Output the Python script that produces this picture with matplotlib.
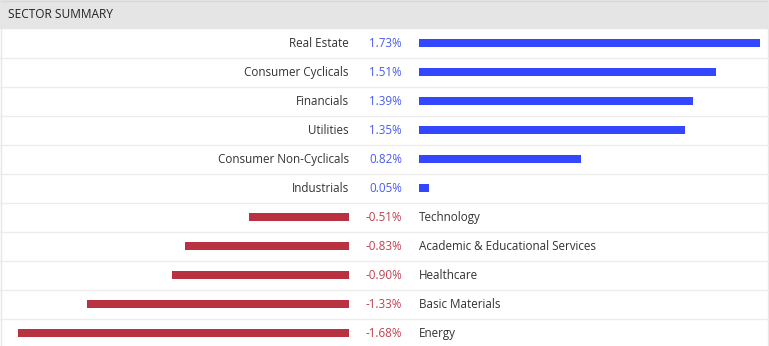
import matplotlib
matplotlib.use("Agg")
from matplotlib import pyplot as plt

sectors = ["Real Estate", "Consumer Cyclicals", "Financials", "Utilities",
           "Consumer Non-Cyclicals", "Industrials", "Technology",
           "Academic & Educational Services", "Healthcare", "Basic Materials", "Energy"]
changes = [1.73, 1.51, 1.39, 1.35, 0.82, 0.05, -0.51, -0.83, -0.90, -1.33, -1.68]

W, H = 769, 346
header_h = 28
row_h = 29
px_per_pct = 197
pos_x0 = 419   # where positive bars start
neg_x1 = 349   # where negative bars end
blue = "#3347ff"
red = "#b83242"

plt.rcParams['font.family'] = ['Open Sans', 'DejaVu Sans']

fig = plt.figure(figsize=(W / 100, H / 100), dpi=100)
n = len(sectors)
rows_bottom = H - (header_h + n * row_h) - 0.5

# background / text layer in pixel coordinates
bg = fig.add_axes([0, 0, 1, 1])
bg.set_xlim(0, W)
bg.set_ylim(H, 0)
bg.axis("off")
bg.axhspan(0, header_h, color="#e5e5e5", zorder=0)
bg.axhline(0.5, color="#d8d8d8", lw=1)
bg.axvline(0.5, color="#e6e6e6", lw=1)
bg.axvline(W - 1.5, color="#e6e6e6", lw=1)
bg.text(8, header_h / 2 + 0.5, "SECTOR SUMMARY", fontsize=8.6, color="#222222",
        va="center", ha="left")
for i in range(1, n):
    bg.axhline(header_h + i * row_h + 0.5, color="#ececec", lw=1)

for i, (name, v) in enumerate(zip(sectors, changes)):
    yc = header_h + i * row_h + row_h / 2 + 1
    if v >= 0:
        bg.text(neg_x1, yc, name, ha="right", va="center", fontsize=8.4, color="#333333")
        bg.text(369, yc, f"{v:.2f}%", ha="left", va="center", fontsize=8.4, color="#4a5af0")
    else:
        bg.text(366, yc, f"{v:.2f}%", ha="left", va="center", fontsize=8.4, color="#c0404f")
        bg.text(pos_x0, yc, name, ha="left", va="center", fontsize=8.4, color="#333333")

# positive bars
pos = fig.add_axes([pos_x0 / W, rows_bottom / H, (W - pos_x0) / W, n * row_h / H])
pos.set_xlim(0, (W - pos_x0) / px_per_pct)
pos.set_ylim(n - 0.5, -0.5)
pos.axis("off")
pos.patch.set_alpha(0)
pos.barh([i for i, v in enumerate(changes) if v > 0],
         [v for v in changes if v > 0], height=0.3, color=blue)

# negative bars
neg = fig.add_axes([0, rows_bottom / H, neg_x1 / W, n * row_h / H])
neg.set_xlim(-neg_x1 / px_per_pct, 0)
neg.set_ylim(n - 0.5, -0.5)
neg.axis("off")
neg.patch.set_alpha(0)
neg.barh([i for i, v in enumerate(changes) if v < 0],
         [v for v in changes if v < 0], height=0.3, color=red)

fig.savefig("out.png", dpi=100)
